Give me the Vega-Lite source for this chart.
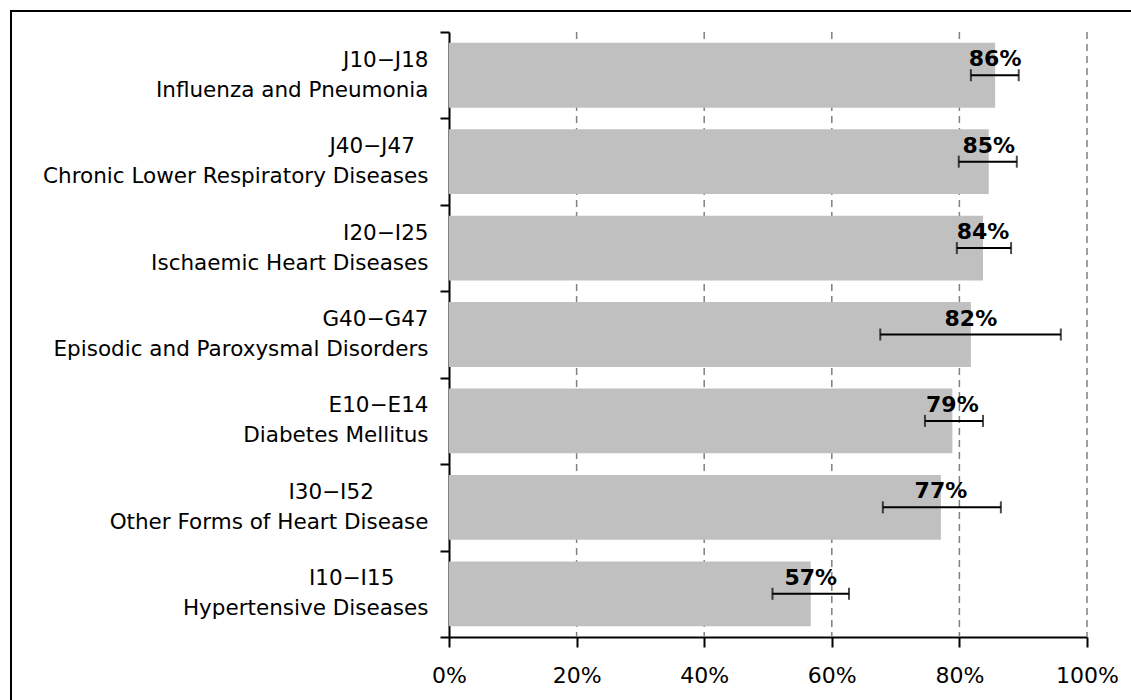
{
  "$schema": "https://vega.github.io/schema/vega-lite/v6.json",
  "width": 1123,
  "height": 692,
  "autosize": {"type": "none"},
  "padding": {"left": 11, "top": 11, "right": -3, "bottom": -3},
  "background": "white",
  "config": {
    "view": {"stroke": "black", "strokeWidth": 2},
    "font": "DejaVu Sans"
  },
  "data": {
    "values": [
      {"cat": "J10\u2212J18|Influenza and Pneumonia", "value": 0.856, "low": 0.818, "high": 0.893},
      {"cat": "J40\u2212J47\u00a0\u00a0\u200b|Chronic Lower Respiratory Diseases", "value": 0.846, "low": 0.799, "high": 0.890},
      {"cat": "I20\u2212I25|Ischaemic Heart Diseases", "value": 0.837, "low": 0.796, "high": 0.881},
      {"cat": "G40\u2212G47|Episodic and Paroxysmal Disorders", "value": 0.818, "low": 0.676, "high": 0.959},
      {"cat": "E10\u2212E14|Diabetes Mellitus", "value": 0.789, "low": 0.746, "high": 0.837},
      {"cat": "I30\u2212I52\u00a0\u00a0\u00a0\u00a0\u00a0\u00a0\u00a0\u00a0\u200b|Other Forms of Heart Disease", "value": 0.771, "low": 0.680, "high": 0.865},
      {"cat": "I10\u2212I15\u00a0\u00a0\u00a0\u00a0\u00a0\u200b|Hypertensive Diseases", "value": 0.567, "low": 0.507, "high": 0.627}
    ]
  },
  "layer": [
    {
      "data": {"values": [{"g": 0.2}, {"g": 0.4}, {"g": 0.6}, {"g": 0.8}, {"g": 1.0}]},
      "mark": {"type": "rule", "color": "#808080", "strokeWidth": 1.5, "strokeDash": [7, 5]},
      "encoding": {
        "x": {
          "field": "g",
          "type": "quantitative",
          "title": null,
          "scale": {"domain": [0, 1], "range": [438, 1076]},
          "axis": {
            "title": null,
            "offset": -66,
            "values": [0, 0.2, 0.4, 0.6, 0.8, 1],
            "format": ".0%",
            "domainColor": "black",
            "domainWidth": 2,
            "tickColor": "black",
            "tickWidth": 2,
            "tickSize": 10,
            "encode": {"ticks": {"y": {"value": -7}}},
            "labelFontSize": 22,
            "labelColor": "black",
            "labelPadding": 18,
            "labelFlush": false,
            "grid": false
          }
        },
        "y": {"datum": 0, "type": "quantitative", "scale": {"domain": [0, 1], "range": [21, 626], "nice": false, "zero": false}, "axis": null},
        "y2": {"datum": 1}
      }
    },
    {
      "encoding": {
        "y": {
          "field": "cat",
          "type": "nominal",
          "sort": null,
          "scale": {"range": [21, 626], "paddingInner": 0, "paddingOuter": 0},
          "axis": {
            "title": null,
            "offset": -438,
            "domainColor": "black",
            "domainWidth": 2,
            "tickColor": "black",
            "tickWidth": 2,
            "tickSize": 9,
            "tickBand": "extent",
            "labelAlign": "right",
            "labelBaseline": "middle",
            "labelOffset": -15,
            "labelPadding": 12,
            "labelFontSize": 21.5,
            "labelColor": "black",
            "labelLineHeight": 30,
            "labelLimit": 600,
            "labelExpr": "split(datum.label, '|')",
            "grid": false
          }
        }
      },
      "layer": [
        {
          "mark": {"type": "bar", "color": "#c0c0c0", "height": {"band": 0.75}},
          "encoding": {
            "x": {"field": "value", "type": "quantitative", "title": null}
          }
        },
        {
          "mark": {"type": "errorbar", "color": "black", "ticks": true, "thickness": 2, "size": 12},
          "encoding": {
            "x": {"field": "low", "type": "quantitative", "title": null},
            "x2": {"field": "high"}
          }
        },
        {
          "mark": {"type": "text", "fontWeight": "bold", "fontSize": 22, "baseline": "alphabetic", "align": "center", "dy": -9, "color": "black"},
          "encoding": {
            "x": {"field": "value", "type": "quantitative", "title": null},
            "text": {"field": "value", "type": "quantitative", "format": ".0%"}
          }
        }
      ]
    }
  ],
  "resolve": {"scale": {"y": "independent"}}
}
